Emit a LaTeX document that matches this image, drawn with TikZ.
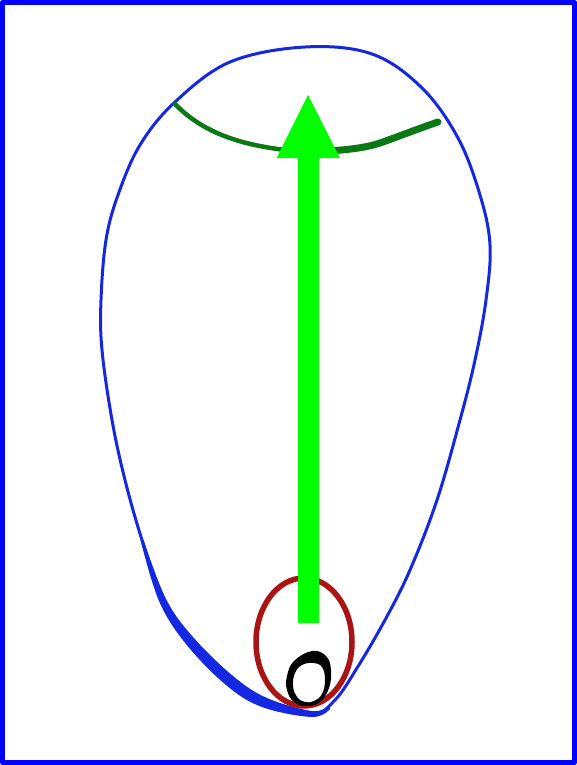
\documentclass[tikz,border=0pt]{standalone}
\usetikzlibrary{calc}
\definecolor{frameblue}{RGB}{0, 0, 255}
\definecolor{eggblue}{RGB}{20, 40, 225}
\definecolor{rimgreen}{RGB}{10, 120, 20}
\definecolor{arrowgreen}{RGB}{0, 255, 0}
\definecolor{loopred}{RGB}{170, 20, 20}
\begin{document}
\begin{tikzpicture}[
	x=1pt, y=-1pt,
	line cap=round, line join=round,
	% Styles
	frame/.style={draw=frameblue, line width=5pt},
	outline/.style={draw=eggblue, line width=3pt},
	rim/.style={draw=rimgreen, line width=5pt},
	bigarrow/.style={fill=arrowgreen, draw=none},
	innerloop/.style={draw=loopred, line width=5.5pt},
	coreloop/.style={fill=black, even odd rule}
	]
	
	% ==========================================
	% Frame
	% ==========================================
	\useasboundingbox (0, 0) rectangle (577, 765);
	\fill[white] (0, 0) rectangle (577, 765);
	\draw[frame] (2.5, 2.2) rectangle (574.5, 762.3);
	
	% ==========================================
	% Egg-shaped outline
	% ==========================================
	\draw[outline] plot[smooth cycle, tension=0.6] coordinates {
		(312,714) (265,702) (230,680) (190,640) (163,600) (142,540)
		(125,480) (112,420) (102,350) (101,300) (106,240) (118,195)
		(140,145) (175,102) (230,62) (305,47) (372,54) (422,88)
		(458,138) (480,195) (490,245) (486,300) (475,360) (460,420)
		(437,500) (410,570) (385,620) (357,668) (335,700)};
	
	% thicker band on the lower left side
	\fill[eggblue] plot[smooth, tension=0.6] coordinates {
		(140.5,540) (159,601) (186,644) (226,685) (262,707) (312,717) (330,709)}
		-- plot[smooth, tension=0.6] coordinates {
		(329,706) (312,711) (267,698) (233,676) (193,637) (166,599) (143.5,540)}
		-- cycle;
	
	% ==========================================
	% Rim near the top
	% ==========================================
	\draw[rim, line width=4.5pt] (175,104) .. controls (205,135) and (245,145) .. (285,150);
	\draw[rim, line width=7pt] (285,150) .. controls (320,153) and (360,150) .. (380,143)
		.. controls (400,136) and (420,128) .. (438,122);
	
	% ==========================================
	% Red loop and black core at the bottom
	% ==========================================
	\draw[innerloop] (304,642) ellipse [x radius=48, y radius=64];
	\fill[coreloop]
		plot[smooth cycle, tension=0.7] coordinates {
		(312,651) (326,656) (331,670) (329,688) (320,702) (307,706)
		(294,702) (287,690) (287,676) (294,661)}
		plot[smooth cycle, tension=0.7] coordinates {
		(313,663) (322,667) (325,680) (322,694) (314,701) (305,702)
		(297,697) (293,686) (295,673) (302,665)};
	
	% ==========================================
	% Green arrow
	% ==========================================
	\fill[bigarrow] (297.5,623) rectangle (318.5,157);
	\fill[bigarrow] (276.5,158) -- (340,158) -- (308,95) -- cycle;
	
\end{tikzpicture}
\end{document}
